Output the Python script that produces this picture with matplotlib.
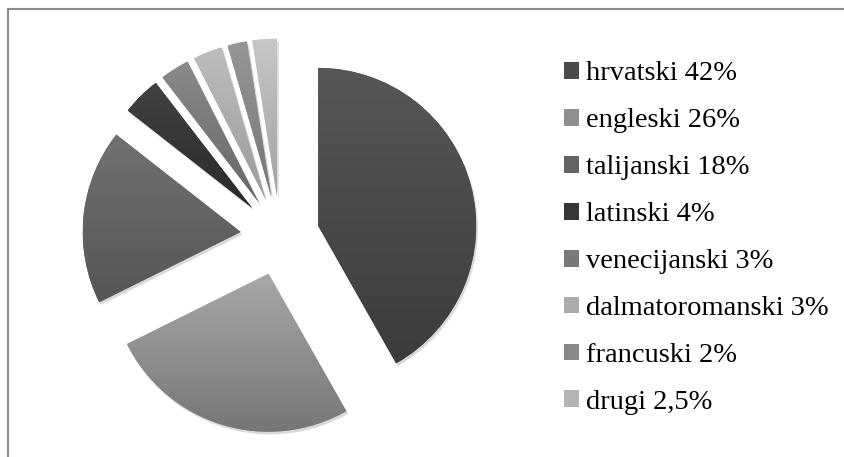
import numpy as np
import matplotlib.pyplot as plt
from matplotlib.colors import LinearSegmentedColormap, to_rgb
from matplotlib.patches import Rectangle, Shadow

# data
labels = ["hrvatski 42%", "engleski 26%", "talijanski 18%", "latinski 4%",
          "venecijanski 3%", "dalmatoromanski 3%", "francuski 2%", "drugi 2,5%"]
shares = [42, 26, 18, 4, 3, 3, 2, 2.5]

# gradient colours (top -> bottom) for each slice
top_colors = ["#575757", "#a8a8a8", "#717171", "#424242",
              "#8a8a8a", "#bdbdbd", "#979797", "#c6c6c6"]
bottom_colors = ["#3c3c3c", "#767676", "#565656", "#2a2a2a",
                 "#676767", "#9b9b9b", "#767676", "#a3a3a3"]

W, H = 845, 457
cx, cy, r = 280, 236, 158   # pie centre and radius in pixels

fig = plt.figure(figsize=(W / 100, H / 100), dpi=100)
ax = fig.add_axes([0, 0, 1, 1])

wedges, _ = ax.pie(shares, startangle=90, counterclock=False,
                   explode=[0.25] * len(shares), radius=1,
                   colors=top_colors, wedgeprops=dict(linewidth=0))

ax.set_xlim(-cx / r, (W - cx) / r)
ax.set_ylim(-(H - cy) / r, cy / r)
ax.set_aspect("auto")
ax.axis("off")

grad = np.linspace(0, 1, 256).reshape(-1, 1)
for w, c0, c1 in zip(wedges, top_colors, bottom_colors):
    # soft drop shadow (offset is in data units * dpi/72)
    sh = Shadow(w, 0.008, -0.012, alpha=0.15)
    sh.set_facecolor("#000000")
    sh.set_zorder(0.5)
    ax.add_patch(sh)
    w.set_zorder(1)
    bb = w.get_path().get_extents()
    cmap = LinearSegmentedColormap.from_list(None, [c0, c1])
    im = ax.imshow(grad, cmap=cmap, extent=(bb.x0, bb.x1, bb.y0, bb.y1),
                   origin="upper", aspect="auto", zorder=2, interpolation="bilinear")
    im.set_clip_path(w)

ax.set_xlim(-cx / r, (W - cx) / r)
ax.set_ylim(-(H - cy) / r, cy / r)

# legend
mid_colors = [tuple((np.array(to_rgb(a)) + np.array(to_rgb(b))) / 2)
              for a, b in zip(top_colors, bottom_colors)]
handles = [Rectangle((0, 0), 1, 1, facecolor=c, edgecolor="none") for c in mid_colors]
fs = 20.5
leg = ax.legend(handles, labels, loc="upper left",
                bbox_to_anchor=(564 / W, 1 - 61.5 / H), bbox_transform=fig.transFigure,
                frameon=False, borderpad=0, borderaxespad=0,
                handlelength=0.53, handleheight=0.53, handletextpad=0.25,
                labelspacing=0.77,
                prop=dict(family="Liberation Serif", size=fs))
for t in leg.get_texts():
    t.set_color("#000000")

# outer border (only top and left edges show)
fig.add_artist(Rectangle((8.5 / W, -0.1), 1.2, 1.1 - 9.5 / H,
                         transform=fig.transFigure, fill=False,
                         edgecolor="#8a8a8a", linewidth=1.5, clip_on=False))

fig.savefig("out.png", dpi=100)
